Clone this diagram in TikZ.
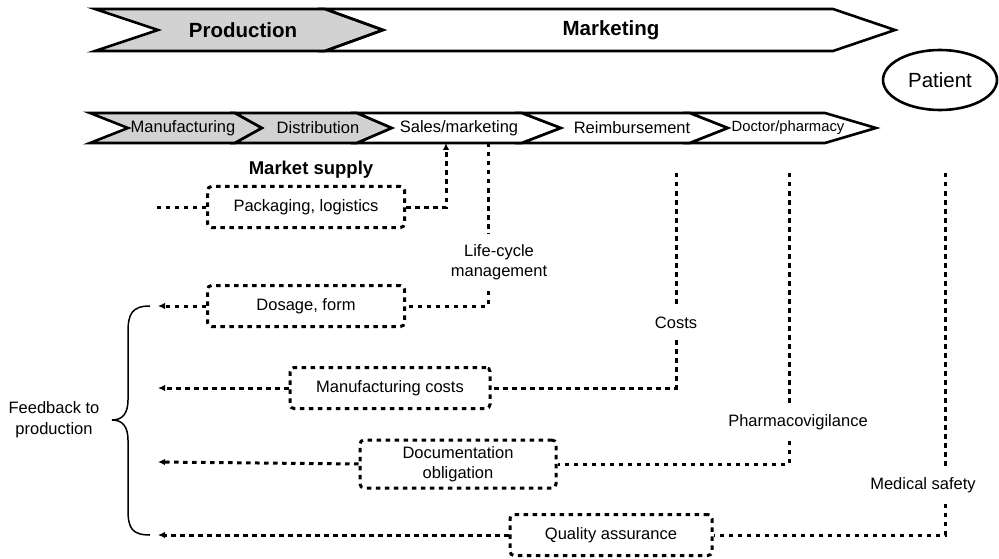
\documentclass[tikz,border=0pt]{standalone}
\usepackage{fontspec}
\setmainfont{Liberation Sans}
\usetikzlibrary{arrows.meta,shapes.geometric}

\tikzset{
  band/.style={line width=2.6pt, line join=miter},
  dline/.style={line width=3pt, dash pattern=on 4.5pt off 4.5pt},
  back/.style={dline, -{Latex[length=7pt,width=6.5pt]}},
  dbox/.style={draw, dline, rounded corners=4pt, minimum height=41pt,
    inner sep=0pt, align=center, font=\fontsize{16.5}{20}\selectfont},
  lbl/.style={inner xsep=2pt, inner ysep=11pt, align=center,
    font=\fontsize{16.5}{20}\selectfont},
  seglbl/.style={font=\fontsize{16.5}{20}\selectfont},
}

\begin{document}
\begin{tikzpicture}[x=1pt,y=-1pt]
  \useasboundingbox (0,0) rectangle (999,559);

  % upper band
  \draw[band, fill=gray!35] (95,9) -- (325,9) -- (383,30) -- (325,51) -- (95,51) -- (158,30) -- cycle;
  \draw[band] (325,9) -- (833,9) -- (895,30) -- (833,51) -- (325,51) -- (383,30) -- cycle;
  \node[font=\bfseries\fontsize{20.5}{24}\selectfont] (prod) at (243,30) {Production};
  \node[font=\bfseries\fontsize{20.5}{24}\selectfont] (mark) at (611,30) {Marketing};

  \node[draw, ellipse, line width=2.6pt, minimum width=114pt, minimum height=60pt,
    font=\fontsize{20.5}{24}\selectfont] (pat) at (940,80) {Patient};

  % lower band
  \foreach \a/\b/\c/\d/\f in {90/128/235/262/gray!35, 235/262/357/392/gray!35,
      357/392/522/561/white, 522/561/690/728/white, 690/728/825/876/white}
    \draw[band, fill=\f] (\a,113) -- (\c,113) -- (\d,128) -- (\c,143) -- (\a,143) -- (\b,128) -- cycle;
  \node[seglbl] (manu) at (183,128) {Manufacturing};
  \node[seglbl] (dist) at (318,128) {Distribution};
  \node[seglbl] (sales) at (459,128) {Sales/marketing};
  \node[seglbl] (reimb) at (632,128) {Reimbursement};
  \node[font=\fontsize{14.8}{18}\selectfont] (doct) at (788,128) {Doctor/pharmacy};

  % ends of the connectors
  \coordinate (sup) at (446,143);
  \coordinate (lct) at (488,143);
  \coordinate (cst) at (676,173);
  \coordinate (pvt) at (789,173);
  \coordinate (mst) at (945,173);
  \coordinate (pks) at (155,207);
  \coordinate (fb1) at (158,306);
  \coordinate (fb2) at (158,388);
  \coordinate (fb3) at (158,462);
  \coordinate (fb4) at (158,535);

  % boxes
  \node[font=\bfseries\fontsize{18.5}{22}\selectfont] (msup) at (311,170) {Market supply};
  \node[dbox, minimum width=197pt] (pack) at (306,207) {Packaging, logistics};
  \node[dbox, minimum width=197pt] (dose) at (306,306) {Dosage, form};
  \node[dbox, minimum width=200pt] (mcost) at (390,388) {Manufacturing costs};
  \node[dbox, minimum width=196pt, minimum height=48pt] (doc) at (458,464) {Documentation\\obligation};
  \node[dbox, minimum width=202pt] (qa) at (611,535) {Quality assurance};

  % labels on the lines
  \node[lbl] (lcm) at (499,262) {Life-cycle\\management};
  \node[lbl] (cost) at (676,323) {Costs};
  \node[lbl] (pv) at (798,422) {Pharmacovigilance};
  \node[lbl] (msaf) at (923,485) {Medical safety};

  % connectors
  \draw[dline] (pack.west) -- (pks);
  \draw[dline, -{Latex[length=7pt,width=6.5pt]}] (pack.east) -| (sup);
  \draw[dline] (lct) -- (lct |- lcm.north);
  \draw[dline] (lct |- lcm.south) |- (dose.east);
  \draw[dline] (cst) -- (cst |- cost.north);
  \draw[dline] (cst |- cost.south) |- (mcost.east);
  \draw[dline] (pvt) -- (pvt |- pv.north);
  \draw[dline] (pvt |- pv.south) |- (doc.east);
  \draw[dline] (mst) -- (mst |- msaf.north);
  \draw[dline] (mst |- msaf.south) |- (qa.east);

  \draw[back] (dose.west) -- (fb1);
  \draw[back] (mcost.west) -- (fb2);
  \draw[back] (doc.west) -- (fb3);
  \draw[back] (qa.west) -- (fb4);

  % feedback brace
  \draw[line width=1.5pt] (150,306) .. controls (132,306) and (128,314) .. (128,332) -- (128,400)
    .. controls (128,414) and (122,420) .. (112,420) .. controls (122,420) and (128,426) .. (128,440)
    -- (128,510) .. controls (128,528) and (132,535) .. (150,535);
  \node[align=center, font=\fontsize{16.5}{21}\selectfont] (fbk) at (54,420) {Feedback to\\production};
\end{tikzpicture}
\end{document}
